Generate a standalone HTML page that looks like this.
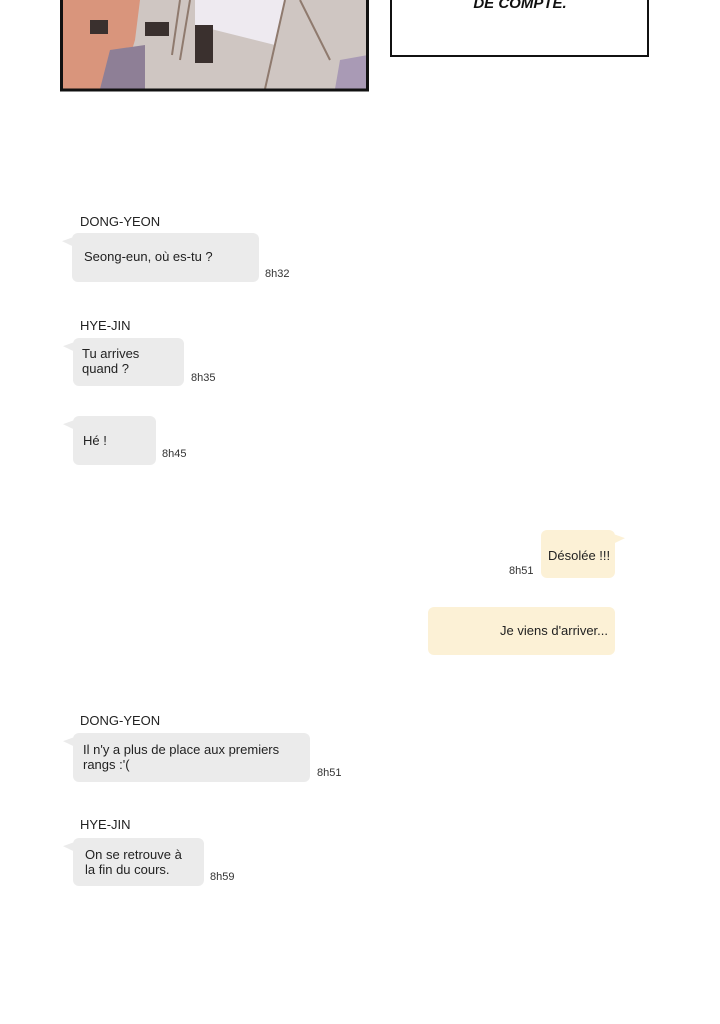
<!DOCTYPE html>
<html><head><meta charset="utf-8"><style>
body{margin:0;width:720px;height:1024px;background:#fff;position:relative;overflow:hidden;font-family:"Liberation Sans",sans-serif;}
.a{position:absolute}
.name{position:absolute;font-size:13px;color:#222;}
.b{position:absolute;background:#ebebeb;border-radius:6px;font-size:13px;color:#222;line-height:15px;box-sizing:border-box;}
.b.l:before{content:"";position:absolute;left:-10px;top:6px;border-top:0 solid transparent;border-right:12px solid #ebebeb;border-bottom:10px solid transparent;transform:skewY(-20deg);}
.y{background:#fcf1d6;}
.y.r:after{content:"";position:absolute;right:-10px;top:6px;border-left:12px solid #fcf1d6;border-bottom:10px solid transparent;transform:skewY(20deg);}
.t{position:absolute;font-size:11px;color:#333;}
</style></head><body>
<svg class="a" style="left:0;top:0" width="720" height="100">
<rect x="61" y="0" width="307" height="89" fill="#cfc6c2"/>
<path d="M62 0 L140 0 L135 40 L120 89 L62 89Z" fill="#d9957c"/>
<path d="M110 50 L145 45 L145 89 L100 89Z" fill="#8e7f96"/>
<rect x="90" y="20" width="18" height="14" fill="#3a302e"/>
<rect x="145" y="22" width="24" height="14" fill="#3a302e"/>
<path d="M195 0 L285 0 L275 45 L195 25Z" fill="#eeeaf0"/>
<rect x="195" y="25" width="18" height="38" fill="#3a302e"/>
<path d="M340 60 L368 55 L368 89 L335 89Z" fill="#a99ab5"/>
<path d="M180 0 L172 55 M190 0 L180 60 M285 0 L265 89 M300 0 L330 60" stroke="#8f7a6e" stroke-width="2" fill="none"/>
<rect x="61.5" y="-5" width="306" height="95" fill="none" stroke="#111" stroke-width="3"/>
<rect x="391" y="-5" width="257" height="61" fill="#fff" stroke="#111" stroke-width="2"/>
<text x="520" y="8" text-anchor="middle" font-family="Liberation Sans" font-style="italic" font-weight="bold" font-size="15" fill="#111">DE COMPTE.</text>
</svg>

<div class="name" style="left:80px;top:214px">DONG-YEON</div>
<div class="b l" style="left:72px;top:233px;width:187px;height:49px;padding:16px 0 0 12px">Seong-eun, où es-tu ?</div>
<div class="t" style="left:265px;top:268px">8h32</div>

<div class="name" style="left:80px;top:318px">HYE-JIN</div>
<div class="b l" style="left:73px;top:338px;width:111px;height:48px;padding:8px 0 0 9px">Tu arrives<br>quand ?</div>
<div class="t" style="left:191px;top:372px">8h35</div>

<div class="b l" style="left:73px;top:416px;width:83px;height:49px;padding:17px 0 0 10px">Hé !</div>
<div class="t" style="left:162px;top:448px">8h45</div>

<div class="b y r" style="left:541px;top:530px;width:74px;height:48px;padding:18px 0 0 7px">Désolée !!!</div>
<div class="t" style="left:509px;top:565px">8h51</div>

<div class="b y" style="left:428px;top:607px;width:187px;height:48px;padding:16px 7px 0 0;text-align:right">Je viens d'arriver...</div>

<div class="name" style="left:80px;top:713px">DONG-YEON</div>
<div class="b l" style="left:73px;top:733px;width:237px;height:49px;padding:9px 0 0 10px">Il n'y a plus de place aux premiers<br>rangs :'(</div>
<div class="t" style="left:317px;top:767px">8h51</div>

<div class="name" style="left:80px;top:817px">HYE-JIN</div>
<div class="b l" style="left:73px;top:838px;width:131px;height:48px;padding:9px 0 0 12px">On se retrouve à<br>la fin du cours.</div>
<div class="t" style="left:210px;top:871px">8h59</div>
</body></html>
